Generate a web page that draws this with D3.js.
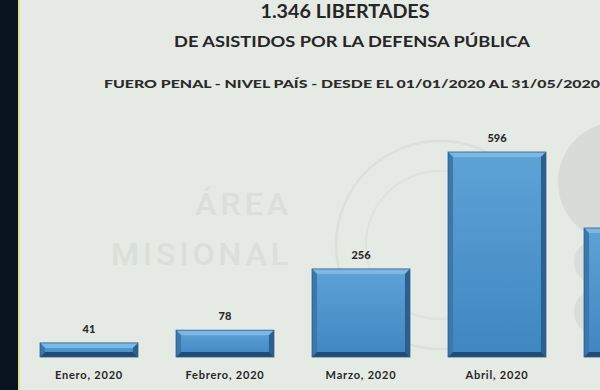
<!DOCTYPE html>
<html><head><meta charset="utf-8">
<script src="https://cdn.jsdelivr.net/npm/d3@7"></script>
<style>html,body{margin:0;padding:0;background:#e5eae4;overflow:hidden}</style>
</head><body>
<script>
const categories = ["Enero, 2020","Febrero, 2020","Marzo, 2020","Abril, 2020","Mayo, 2020"];
const values = [41, 78, 256, 596, 375];
const titleLines = ["1.346 LIBERTADES","DE ASISTIDOS POR LA DEFENSA PÚBLICA"];
const subtitle = "FUERO PENAL - NIVEL PAÍS - DESDE EL 01/01/2020 AL 31/05/2020";
const watermark = ["ÁREA","MISIONAL"];

const W = 600, H = 390;
const svg = d3.select("body").append("svg").attr("width", W).attr("height", H);
const defs = svg.append("defs");
const g1 = defs.append("linearGradient").attr("id","face").attr("x1",0).attr("y1",0).attr("x2",0).attr("y2",1);
g1.append("stop").attr("offset","0%").attr("stop-color","#5ea3d6");
g1.append("stop").attr("offset","100%").attr("stop-color","#3f86c2");

svg.append("rect").attr("width",W).attr("height",H).attr("fill","#e5eae4");

// faint decorations
svg.append("circle").attr("cx",440).attr("cy",245).attr("r",104).attr("fill","none").attr("stroke","#dbe0da").attr("stroke-width",2.5);
svg.append("circle").attr("cx",440).attr("cy",245).attr("r",74).attr("fill","none").attr("stroke","#dde2dc").attr("stroke-width",2);
svg.append("circle").attr("cx",618).attr("cy",182).attr("r",60).attr("fill","#d8dbd7");
svg.append("circle").attr("cx",596).attr("cy",262).attr("r",22).attr("fill","#dadeda");
svg.append("circle").attr("cx",598).attr("cy",312).attr("r",24).attr("fill","#dadeda");

svg.append("text").attr("x",292).attr("y",215).attr("text-anchor","end")
  .attr("font-family","Roboto").attr("font-weight",500).attr("font-size",32).attr("letter-spacing",4)
  .attr("fill","#dadfd9").text(watermark[0]);
svg.append("text").attr("x",292).attr("y",265).attr("text-anchor","end")
  .attr("font-family","Roboto").attr("font-weight",500).attr("font-size",32).attr("letter-spacing",4)
  .attr("fill","#dadfd9").text(watermark[1]);

// left dark strip
svg.append("rect").attr("x",0).attr("y",0).attr("width",18).attr("height",H).attr("fill","#0a1420");
svg.append("rect").attr("x",18).attr("y",0).attr("width",2).attr("height",H).attr("fill","#d9e28c");

// titles
svg.append("text").attr("x",345).attr("y",18).attr("text-anchor","middle")
  .attr("font-family","Lato").attr("font-weight",700).attr("font-size",18.5).attr("fill","#262626")
  .attr("textLength",169).attr("lengthAdjust","spacingAndGlyphs").text(titleLines[0]);
svg.append("text").attr("x",352).attr("y",47).attr("text-anchor","middle")
  .attr("font-family","Lato").attr("font-weight",700).attr("font-size",16).attr("fill","#262626")
  .attr("textLength",356).attr("lengthAdjust","spacingAndGlyphs").text(titleLines[1]);
svg.append("text").attr("x",352).attr("y",88).attr("text-anchor","middle")
  .attr("font-family","Lato").attr("font-weight",900).attr("font-size",11.5).attr("fill","#2a2a2a")
  .attr("textLength",496).attr("lengthAdjust","spacingAndGlyphs").text(subtitle);

const x = d3.scaleBand().domain(categories).range([21, 701]).paddingInner(0.28).paddingOuter(0.14);
const y = d3.scaleLinear().domain([0, 596]).range([357, 152]);

const b = 5;
const bars = svg.append("g").selectAll("g").data(categories.map((c,i)=>({c, v: values[i]}))).join("g");
bars.each(function(d){
  const gg = d3.select(this);
  const x0 = x(d.c), x1 = x0 + x.bandwidth(), y0 = y(d.v), y1 = y(0);
  gg.append("rect").attr("x",x0).attr("y",y0).attr("width",x1-x0).attr("height",y1-y0).attr("fill","url(#face)");
  const bb = Math.min(b, (y1-y0)/2.2);
  gg.append("polygon").attr("points",[[x0,y0],[x1,y0],[x1-bb,y0+bb],[x0+bb,y0+bb]].join(" ")).attr("fill","#7db8e2");
  gg.append("polygon").attr("points",[[x0,y0],[x0+bb,y0+bb],[x0+bb,y1-bb],[x0,y1]].join(" ")).attr("fill","#3a78ad");
  gg.append("polygon").attr("points",[[x1,y0],[x1-bb,y0+bb],[x1-bb,y1-bb],[x1,y1]].join(" ")).attr("fill","#2a5f8e");
  gg.append("polygon").attr("points",[[x0,y1],[x0+bb,y1-bb],[x1-bb,y1-bb],[x1,y1]].join(" ")).attr("fill","#1f4c75");
  gg.append("rect").attr("x",x0).attr("y",y0).attr("width",x1-x0).attr("height",y1-y0).attr("fill","none").attr("stroke","#2a5a85").attr("stroke-width",0.8);
  gg.append("text").attr("x",(x0+x1)/2).attr("y",y0-10).attr("text-anchor","middle")
    .attr("font-family","Lato").attr("font-weight",900).attr("font-size",11).attr("fill","#2a2a2a").text(d.v);
});

const xAxis = svg.append("g").attr("transform","translate(0,357)")
  .call(d3.axisBottom(x).tickSize(0).tickPadding(14));
xAxis.select(".domain").remove();
xAxis.selectAll("text").attr("font-family","Lato").attr("font-weight",700).attr("font-size",11)
  .attr("letter-spacing",0.8).attr("fill","#262626");
</script>
</body></html>
